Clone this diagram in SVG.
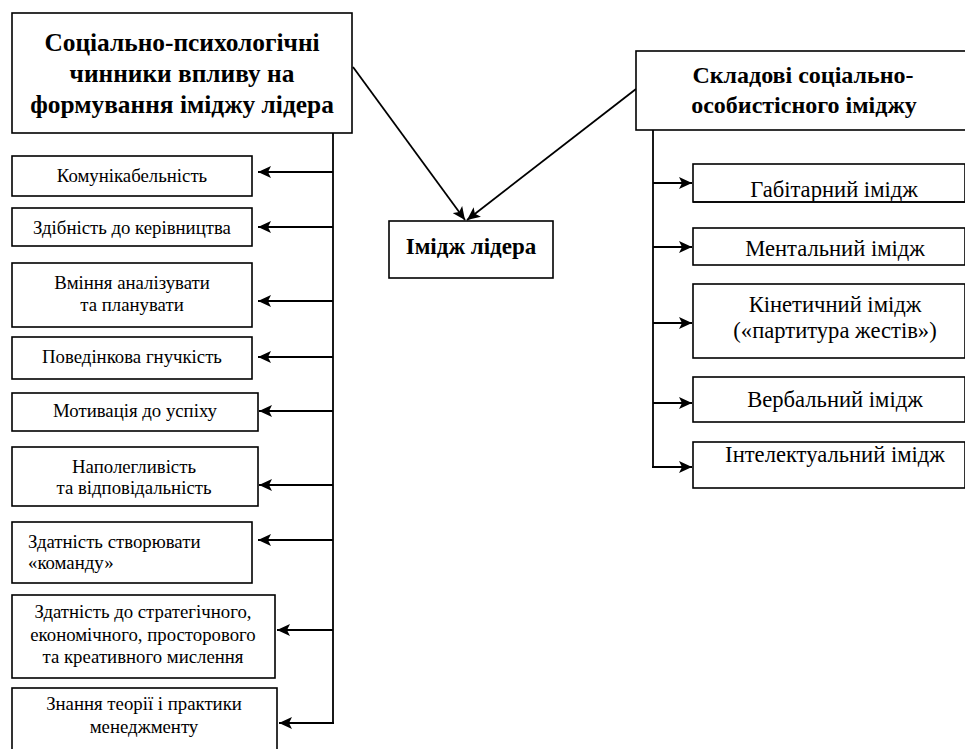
<svg xmlns="http://www.w3.org/2000/svg" width="965" height="749" viewBox="0 0 965 749">
<defs>
<style>
rect{fill:#fff;stroke:#000;stroke-width:1.6}
line{stroke:#000;stroke-width:1.8;fill:none}
text{font-family:'Liberation Serif','DejaVu Serif',serif;fill:#000;text-anchor:middle}
.h{font-weight:bold;font-size:25.4px}
.h2{font-weight:bold;font-size:24px}
.s{font-size:18.8px}
.r{font-size:22.6px}
.lft{text-anchor:start}
</style>
<marker id="ah" markerUnits="userSpaceOnUse" markerWidth="14" markerHeight="12" viewBox="0 0 14 12" refX="13" refY="6" orient="auto">
<path d="M0,0 L13,6 L0,12 L3,6 Z" fill="#000"/>
</marker>
<clipPath id="cg"><rect x="693" y="164" width="272" height="37"/></clipPath>
</defs>

<g id="connectors">
<line x1="353" y1="67" x2="465" y2="220" marker-end="url(#ah)"/>
<line x1="636" y1="89" x2="467" y2="220" marker-end="url(#ah)"/>
<line x1="333" y1="133" x2="333" y2="723"/>
<line x1="333" y1="172" x2="258" y2="172" marker-end="url(#ah)"/>
<line x1="333" y1="227" x2="258" y2="227" marker-end="url(#ah)"/>
<line x1="333" y1="301" x2="258" y2="301" marker-end="url(#ah)"/>
<line x1="333" y1="357" x2="258" y2="357" marker-end="url(#ah)"/>
<line x1="333" y1="411" x2="259" y2="411" marker-end="url(#ah)"/>
<line x1="333" y1="485" x2="259" y2="485" marker-end="url(#ah)"/>
<line x1="333" y1="540" x2="258" y2="540" marker-end="url(#ah)"/>
<line x1="333" y1="630" x2="277" y2="630" marker-end="url(#ah)"/>
<line x1="334" y1="723" x2="279" y2="723" marker-end="url(#ah)"/>
<line x1="653" y1="130" x2="653" y2="467"/>
<line x1="653" y1="183" x2="692" y2="183" marker-end="url(#ah)"/>
<line x1="653" y1="247" x2="692" y2="247" marker-end="url(#ah)"/>
<line x1="653" y1="323" x2="692" y2="323" marker-end="url(#ah)"/>
<line x1="653" y1="403" x2="692" y2="403" marker-end="url(#ah)"/>
<line x1="652" y1="467" x2="692" y2="467" marker-end="url(#ah)"/>
</g>

<g id="n-factors">
<rect x="12" y="13" width="340" height="120"/>
<text class="h" x="182" y="51">Соціально-психологічні</text>
<text class="h" x="182" y="82">чинники впливу на</text>
<text class="h" x="182" y="113">формування іміджу лідера</text>
</g>

<g id="n-components">
<rect x="636" y="51" width="340" height="79"/>
<text class="h2" x="803" y="83">Складові соціально-</text>
<text class="h2" x="804" y="113">особистісного іміджу</text>
</g>

<g id="n-image">
<rect x="389" y="221" width="164" height="57"/>
<text class="h" x="471" y="254" style="font-size:23px">Імідж лідера</text>
</g>

<g id="l1"><rect x="12" y="156" width="240" height="40"/><text class="s" x="132" y="182">Комунікабельність</text></g>
<g id="l2"><rect x="12" y="208" width="240" height="38"/><text class="s" x="132" y="234">Здібність до керівництва</text></g>
<g id="l3"><rect x="12" y="263" width="240" height="64"/><text class="s" x="132" y="289">Вміння аналізувати</text><text class="s" x="132" y="311">та планувати</text></g>
<g id="l4"><rect x="12" y="337" width="240" height="42"/><text class="s" x="132" y="363">Поведінкова гнучкість</text></g>
<g id="l5"><rect x="12" y="393" width="246" height="38"/><text class="s" x="135" y="417">Мотивація до успіху</text></g>
<g id="l6"><rect x="12" y="447" width="246" height="59"/><text class="s" x="134" y="473">Наполегливість</text><text class="s" x="134" y="494">та відповідальність</text></g>
<g id="l7"><rect x="12" y="522" width="240" height="61"/><text class="s lft" x="28" y="548">Здатність створювати</text><text class="s lft" x="28" y="569">«команду»</text></g>
<g id="l8"><rect x="12" y="595" width="263" height="83"/><text class="s" x="143" y="618">Здатність до стратегічного,</text><text class="s" x="143" y="641">економічного, просторового</text><text class="s" x="143" y="663">та креативного мислення</text></g>
<g id="l9"><rect x="12" y="688" width="265" height="70"/><text class="s" x="144" y="710">Знання теорії і практики</text><text class="s" x="144" y="733">менеджменту</text></g>

<g id="r1"><rect x="693" y="164" width="272" height="38"/><text class="r" x="834" y="197" clip-path="url(#cg)">Габітарний імідж</text><line x1="693" y1="202" x2="965" y2="202" style="stroke-width:1.6"/></g>
<g id="r2"><rect x="693" y="228" width="272" height="37"/><text class="r" x="835" y="256">Ментальний імідж</text></g>
<g id="r3"><rect x="693" y="284" width="272" height="74"/><text class="r" x="835" y="312">Кінетичний імідж</text><text class="r" x="835" y="338">(«партитура жестів»)</text></g>
<g id="r4"><rect x="693" y="377" width="272" height="45"/><text class="r" x="835" y="407">Вербальний імідж</text></g>
<g id="r5"><rect x="693" y="442" width="272" height="46"/><text class="r" x="835" y="462">Інтелектуальний імідж</text></g>
</svg>
